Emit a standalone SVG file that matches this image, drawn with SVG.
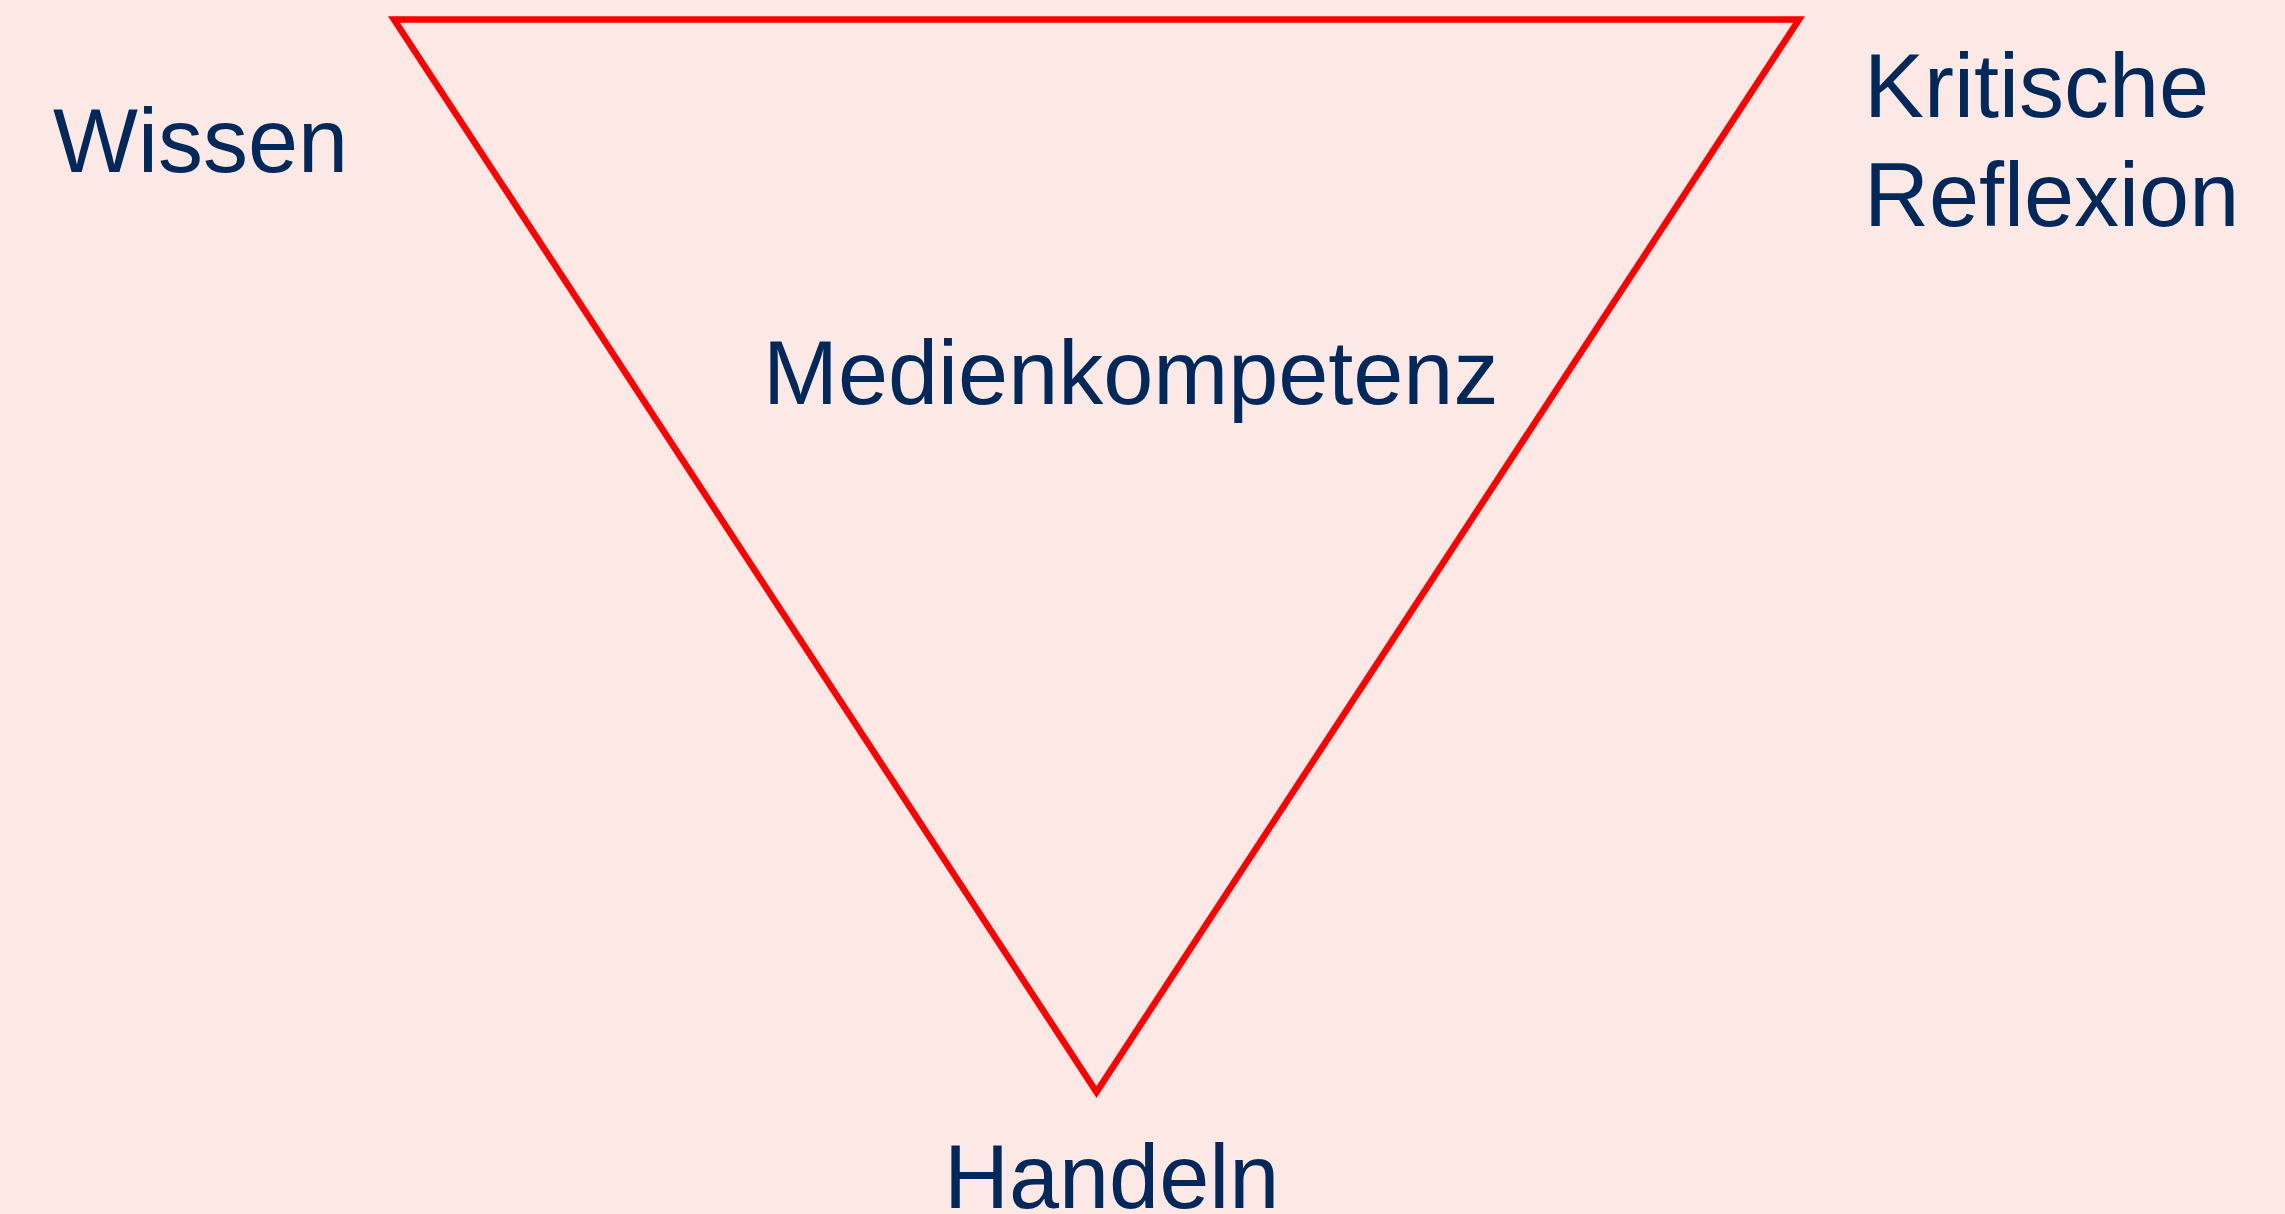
<svg xmlns="http://www.w3.org/2000/svg" width="2285" height="1214" viewBox="0 0 2285 1214">
<style>
.lbl{font-family:"Liberation Sans",Arial,sans-serif;font-size:90px;fill:#00285A}
.tri{fill:none;stroke:#FF0000;stroke-width:6.5;stroke-linejoin:miter}
</style>
<rect x="0" y="0" width="2285" height="1214" fill="#FCE8E5"/>
<g id="triangle">
<polygon class="tri" points="394,19.5 1799,19.5 1096.5,1092"/>
</g>
<g id="connectors"></g>
<g id="wissen"><text class="lbl" x="53" y="172">Wissen</text></g>
<g id="kritische-reflexion"><text class="lbl" x="1864" y="117">Kritische</text><text class="lbl" x="1864" y="226">Reflexion</text></g>
<g id="medienkompetenz"><text class="lbl" x="763" y="404">Medienkompetenz</text></g>
<g id="handeln"><text class="lbl" x="944" y="1208">Handeln</text></g>
</svg>
